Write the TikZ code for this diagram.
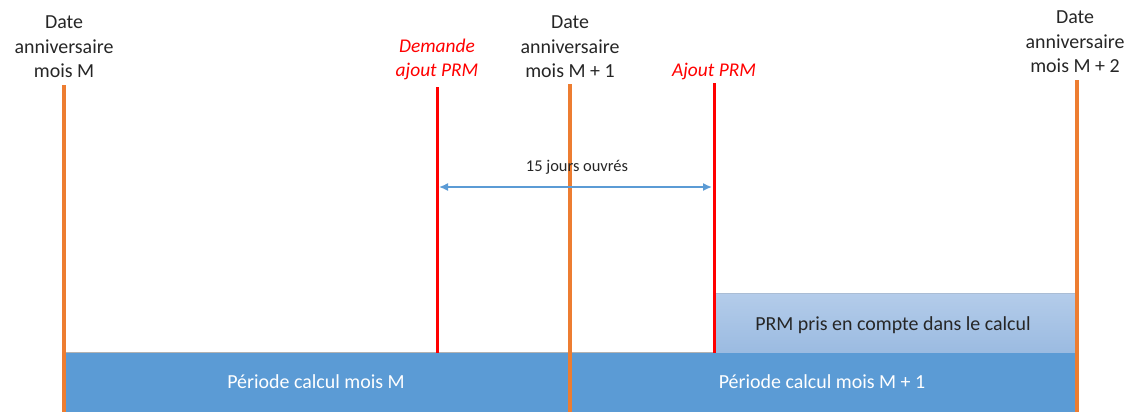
\documentclass[tikz,border=0pt]{standalone}
\usepackage{fontspec}
\setmainfont{Carlito}
\usetikzlibrary{arrows.meta}
\definecolor{orangeL}{HTML}{ED7D31}
\definecolor{blueBar}{HTML}{5B9BD5}
\definecolor{blueTop}{HTML}{B4CCEA}
\definecolor{blueBot}{HTML}{9BBBE1}
\definecolor{txt}{HTML}{262626}
\tikzset{
  datelbl/.style={align=center,font=\fontsize{20}{24.5}\selectfont,text=txt,inner sep=0pt},
  eventlbl/.style={align=center,font=\fontsize{19.5}{24}\selectfont\itshape,text=red,inner sep=0pt},
  dateline/.style={orangeL,line width=4bp},
  eventline/.style={red,line width=3bp},
  spanarrow/.style={blueBar,line width=1.5bp,{Latex[length=9bp,width=8bp]}-{Latex[length=9bp,width=8bp]}},
  barlbl/.style={font=\fontsize{20}{24}\selectfont,text=white,inner sep=0pt},
}
\begin{document}
\begin{tikzpicture}[x=1bp,y=-1bp]
\useasboundingbox (0,0) rectangle (1131,412);
% bars
\fill[blueBar] (64,352) rectangle (1077,412);
\draw[gray!60,line width=0.8bp] (64,352) -- (1077,352);
\shade[top color=blueTop,bottom color=blueBot] (714,293) rectangle (1077,352);
\draw[blueTop!80!gray,line width=0.8bp] (714,293) -- (1077,293);
\node[barlbl] (pm) at (316,382) {Période calcul mois M};
\node[barlbl] (pm1) at (822,382) {Période calcul mois M + 1};
\node[font=\fontsize{20}{24}\selectfont,text=txt,inner sep=0pt] (prm) at (893,325) {PRM pris en compte dans le calcul};
% date labels
\node[datelbl,anchor=south] (d0) at (64,78) {Date\\anniversaire\\mois M};
\node[datelbl,anchor=south] (d1) at (570,78) {Date\\anniversaire\\mois M + 1};
\node[datelbl,anchor=south] (d2) at (1075,73) {Date\\anniversaire\\mois M + 2};
\node[eventlbl,anchor=south] (e0) at (437,80) {Demande\\ajout PRM};
\node[eventlbl,anchor=south] (e1) at (714,80) {Ajout PRM};
% lines
\coordinate (l0t) at (64,85); \coordinate (l0b) at (64,412);
\coordinate (l1t) at (570,84); \coordinate (l1b) at (570,412);
\coordinate (l2t) at (1077,80); \coordinate (l2b) at (1077,412);
\coordinate (r0t) at (437,87); \coordinate (r0b) at (437,353);
\coordinate (r1t) at (714,83); \coordinate (r1b) at (714,353);
\draw[eventline] (r0t) -- (r0b);
\draw[eventline] (r1t) -- (r1b);
\draw[dateline] (l0t) -- (l0b);
\draw[dateline] (l1t) -- (l1b);
\draw[dateline] (l2t) -- (l2b);
% span arrow
\coordinate (a0) at (439,187); \coordinate (a1) at (712,187);
\draw[spanarrow] (a0) -- (a1);
\node[font=\fontsize{16.5}{20}\selectfont,text=txt,inner sep=0pt] (span) at (577,167) {15 jours ouvrés};
\end{tikzpicture}
\end{document}
